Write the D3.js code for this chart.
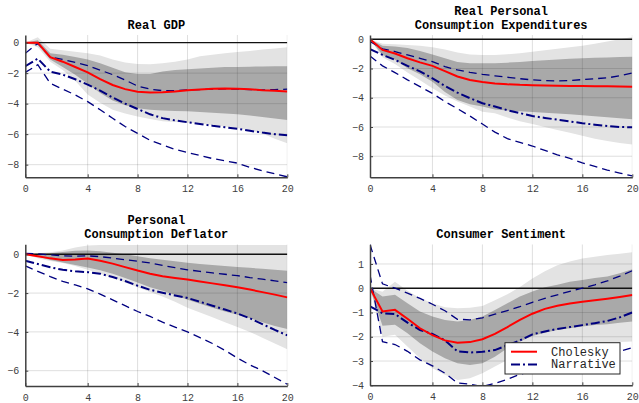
<!DOCTYPE html>
<html>
<head>
<meta charset="utf-8">
<script src="https://cdn.jsdelivr.net/npm/d3@7"></script>
<style>
  body { margin: 0; background: #fff; }
  svg { display: block; }
  text { font-family: "Liberation Mono", "DejaVu Sans Mono", monospace; }
</style>
</head>
<body>
<div id="chart"></div>
<script>
// horizon steps (22 points, the first tick sits one step before "0" spacing)
const steps = d3.range(22);
const xTicks = [0, 5, 9, 13, 17, 21];
const xTickLabels = ["0", "4", "8", "12", "16", "20"];

// Real GDP
const gdpChol = [0, 0, -0.96, -1.25, -1.6, -1.95, -2.4, -2.78, -3.05, -3.22, -3.27, -3.25, -3.2, -3.12, -3.08, -3.03, -3.0, -3.02, -3.06, -3.12, -3.16, -3.2];
const gdpNarr = [-1.55, -1.05, -1.9, -2.1, -2.4, -2.75, -3.15, -3.6, -4.0, -4.35, -4.7, -4.95, -5.1, -5.22, -5.33, -5.45, -5.55, -5.65, -5.78, -5.9, -6.0, -6.08];
const gdpNarrHi = [-0.7, -0.05, -0.95, -1.1, -1.3, -1.5, -1.8, -2.1, -2.45, -2.85, -3.05, -3.15, -3.15, -3.1, -3.08, -3.05, -3.03, -3.05, -3.08, -3.1, -3.08, -3.05];
const gdpNarrLo = [-1.95, -1.45, -2.67, -3.05, -3.43, -3.87, -4.4, -4.96, -5.5, -5.95, -6.4, -6.7, -7.0, -7.2, -7.4, -7.6, -7.75, -7.9, -8.18, -8.4, -8.6, -8.8];
const gdpLightHi = [0, 0.35, -0.4, -0.5, -0.6, -0.7, -0.85, -1.1, -1.3, -1.4, -1.42, -1.35, -1.25, -1.1, -0.9, -0.8, -0.7, -0.62, -0.55, -0.45, -0.38, -0.3];
const gdpLightLo = [0, -0.3, -1.25, -1.8, -2.5, -3.4, -3.95, -4.4, -4.65, -4.85, -5.0, -5.15, -5.2, -5.25, -5.3, -5.4, -5.5, -5.6, -5.75, -5.95, -6.3, -6.6];
const gdpDarkHi = [0, 0.15, -0.7, -0.8, -0.95, -1.1, -1.35, -1.65, -1.95, -2.05, -2.05, -1.9, -1.8, -1.75, -1.7, -1.65, -1.6, -1.6, -1.58, -1.56, -1.55, -1.55];
const gdpDarkLo = [0, -0.15, -1.1, -1.6, -2.1, -2.7, -3.3, -3.8, -4.1, -4.3, -4.4, -4.45, -4.48, -4.5, -4.55, -4.6, -4.65, -4.7, -4.78, -4.88, -4.98, -5.07];

// Real Personal Consumption Expenditures
const pceChol = [0, -0.73, -0.98, -1.3, -1.58, -1.82, -2.18, -2.55, -2.78, -2.92, -3.02, -3.08, -3.12, -3.14, -3.16, -3.18, -3.19, -3.2, -3.21, -3.22, -3.23, -3.24];
const pceNarr = [-0.68, -1.07, -1.41, -1.82, -2.2, -2.67, -3.19, -3.65, -4.03, -4.38, -4.6, -4.85, -5.05, -5.25, -5.38, -5.5, -5.62, -5.74, -5.84, -5.93, -6.0, -6.02];
const pceNarrHi = [-0.15, -0.66, -0.84, -1.07, -1.3, -1.53, -1.87, -2.1, -2.26, -2.4, -2.5, -2.6, -2.7, -2.78, -2.82, -2.85, -2.82, -2.76, -2.7, -2.64, -2.5, -2.3];
const pceNarrLo = [-1.14, -1.82, -2.28, -2.78, -3.24, -3.7, -4.26, -4.75, -5.25, -5.8, -6.35, -6.8, -7.05, -7.3, -7.6, -7.9, -8.15, -8.45, -8.7, -8.95, -9.15, -9.35];
const pceLightHi = [0, -0.3, -0.35, -0.4, -0.45, -0.55, -0.7, -0.9, -1.05, -1.07, -1.07, -1.03, -0.95, -0.85, -0.75, -0.65, -0.55, -0.45, -0.3, -0.15, 0.0, 0.15];
const pceLightLo = [0, -1.23, -1.7, -2.28, -2.8, -3.35, -3.85, -4.26, -4.6, -4.95, -5.06, -5.35, -5.6, -5.8, -6.0, -6.2, -6.4, -6.6, -6.8, -6.95, -7.1, -7.2];
const pceDarkHi = [0, -0.45, -0.5, -0.6, -0.8, -1.05, -1.3, -1.55, -1.64, -1.65, -1.64, -1.6, -1.55, -1.48, -1.43, -1.38, -1.33, -1.3, -1.27, -1.24, -1.21, -1.19];
const pceDarkLo = [0, -1.07, -1.4, -1.98, -2.4, -2.9, -3.6, -4.15, -4.45, -4.6, -4.8, -4.88, -4.93, -4.97, -5.02, -5.07, -5.13, -5.2, -5.27, -5.34, -5.4, -5.47];

// Personal Consumption Deflator
const pcdChol = [0, -0.1, -0.21, -0.29, -0.27, -0.22, -0.33, -0.48, -0.66, -0.84, -1.0, -1.13, -1.22, -1.3, -1.4, -1.5, -1.6, -1.7, -1.82, -1.95, -2.08, -2.22];
const pcdNarr = [-0.33, -0.5, -0.67, -0.8, -0.88, -0.92, -1.0, -1.17, -1.38, -1.62, -1.83, -1.98, -2.12, -2.25, -2.45, -2.65, -2.85, -3.05, -3.3, -3.6, -3.9, -4.18];
const pcdNarrHi = [0.05, 0.02, -0.03, -0.08, -0.1, -0.08, -0.12, -0.2, -0.28, -0.36, -0.45, -0.57, -0.69, -0.8, -0.88, -0.96, -1.03, -1.1, -1.2, -1.28, -1.37, -1.46];
const pcdNarrLo = [-0.6, -0.88, -1.15, -1.4, -1.58, -1.78, -2.05, -2.35, -2.65, -2.95, -3.2, -3.5, -3.75, -4.0, -4.3, -4.6, -4.95, -5.35, -5.7, -6.0, -6.35, -6.7];
const pcdLightHi = [0, 0.05, 0.1, 0.2, 0.35, 0.45, 0.48, 0.48, 0.48, 0.48, 0.48, 0.48, 0.48, 0.48, 0.48, 0.48, 0.48, 0.48, 0.48, 0.48, 0.48, 0.48];
const pcdLightLo = [0, -0.2, -0.35, -0.45, -0.6, -0.8, -1.0, -1.2, -1.45, -1.7, -1.95, -2.18, -2.45, -2.75, -3.0, -3.25, -3.5, -3.75, -4.0, -4.3, -4.6, -4.9];
const pcdDarkHi = [0, 0.03, 0.06, 0.12, 0.18, 0.2, 0.16, 0.08, 0.0, -0.1, -0.2, -0.28, -0.36, -0.44, -0.5, -0.55, -0.6, -0.65, -0.7, -0.75, -0.8, -0.85];
const pcdDarkLo = [0, -0.12, -0.3, -0.42, -0.55, -0.68, -0.82, -1.0, -1.22, -1.45, -1.7, -1.88, -2.1, -2.35, -2.55, -2.75, -2.95, -3.12, -3.3, -3.5, -3.7, -3.85];

// Consumer Sentiment
const csChol = [0, -0.96, -0.89, -1.26, -1.65, -1.93, -2.15, -2.25, -2.22, -2.1, -1.88, -1.6, -1.3, -1.05, -0.85, -0.72, -0.63, -0.56, -0.5, -0.43, -0.36, -0.28];
const csNarr = [-0.75, -1.03, -1.06, -1.42, -1.72, -1.88, -2.15, -2.6, -2.65, -2.62, -2.55, -2.35, -2.15, -1.9, -1.78, -1.68, -1.6, -1.52, -1.44, -1.35, -1.2, -1.0];
const csNarrHi = [1.8, 0.18, 0.0, -0.2, -0.42, -0.66, -0.93, -1.28, -1.3, -1.22, -1.07, -0.92, -0.76, -0.58, -0.42, -0.27, -0.13, 0.0, 0.14, 0.3, 0.5, 0.72];
const csNarrLo = [0.55, -2.2, -2.32, -2.6, -2.95, -3.2, -3.5, -3.9, -3.95, -4.05, -3.92, -3.75, -3.55, -3.4, -3.25, -3.1, -2.95, -2.85, -2.75, -2.68, -2.6, -2.45];
const csLightHi = [0, -0.15, 0.27, -0.1, -0.4, -0.62, -0.78, -0.82, -0.8, -0.73, -0.5, -0.25, 0.05, 0.4, 0.7, 0.95, 1.1, 1.22, 1.3, 1.37, 1.42, 1.48];
const csLightLo = [0, -2.0, -1.92, -2.4, -2.89, -3.3, -3.57, -3.78, -3.71, -3.5, -3.23, -2.96, -2.68, -2.47, -2.4, -2.34, -2.3, -2.27, -2.25, -2.24, -2.22, -2.2];
const csDarkHi = [0, -0.34, -0.27, -0.62, -0.96, -1.17, -1.31, -1.37, -1.31, -1.17, -0.9, -0.62, -0.34, -0.14, 0.04, 0.14, 0.27, 0.34, 0.42, 0.48, 0.62, 0.78];
const csDarkLo = [0, -1.55, -1.51, -1.86, -2.27, -2.61, -2.89, -3.09, -3.16, -3.09, -2.82, -2.47, -2.2, -1.97, -1.83, -1.72, -1.65, -1.58, -1.52, -1.48, -1.42, -1.37];

const legendLabels = ["Cholesky", "Narrative"];

const panels = [
	{ title: ["Real GDP"], x0: 25.3, x1: 287.3, y0: 35, y1: 177.3, yDom: [-8.83, 0.5], yTicks: [-8, -6, -4, -2, 0],
		chol: gdpChol, narr: gdpNarr, hi: gdpNarrHi, lo: gdpNarrLo, lHi: gdpLightHi, lLo: gdpLightLo, dHi: gdpDarkHi, dLo: gdpDarkLo },
	{ title: ["Real Personal", "Consumption Expenditures"], x0: 370, x1: 632.3, y0: 35, y1: 177.3, yDom: [-9.44, 0.29], yTicks: [-8, -6, -4, -2, 0],
		chol: pceChol, narr: pceNarr, hi: pceNarrHi, lo: pceNarrLo, lHi: pceLightHi, lLo: pceLightLo, dHi: pceDarkHi, dLo: pceDarkLo },
	{ title: ["Personal", "Consumption Deflator"], x0: 25.3, x1: 287.3, y0: 244.3, y1: 386, yDom: [-6.79, 0.515], yTicks: [-6, -4, -2, 0],
		chol: pcdChol, narr: pcdNarr, hi: pcdNarrHi, lo: pcdNarrLo, lHi: pcdLightHi, lLo: pcdLightLo, dHi: pcdDarkHi, dLo: pcdDarkLo },
	{ title: ["Consumer Sentiment"], x0: 370, x1: 632.3, y0: 244.3, y1: 385.3, yDom: [-4.0, 1.81], yTicks: [-4, -3, -2, -1, 0, 1],
		chol: csChol, narr: csNarr, hi: csNarrHi, lo: csNarrLo, lHi: csLightHi, lLo: csLightLo, dHi: csDarkHi, dLo: csDarkLo, legend: true }
];

const svg = d3.select("#chart").append("svg")
	.attr("width", 639)
	.attr("height", 403);

const red = "#ff0000";
const navy = "#000080";
const axisColor = "#262626";

panels.forEach((p, k) => {
	const g = svg.append("g");
	const x = d3.scaleLinear().domain([0, 21]).range([p.x0, p.x1]);
	const y = d3.scaleLinear().domain(p.yDom).range([p.y1, p.y0]);

	const clipId = "clip" + k;
	g.append("clipPath").attr("id", clipId)
		.append("rect")
		.attr("x", p.x0).attr("y", p.y0)
		.attr("width", p.x1 - p.x0).attr("height", p.y1 - p.y0);

	const plot = g.append("g").attr("clip-path", `url(#${clipId})`);

	// bands
	const band = (hi, lo) => d3.area()
		.x(i => x(i))
		.y0(i => y(lo[i]))
		.y1(i => y(hi[i]));
	plot.append("path").datum(steps).attr("d", band(p.lHi, p.lLo)).attr("fill", "#e3e3e3");
	plot.append("path").datum(steps).attr("d", band(p.dHi, p.dLo)).attr("fill", "#a9a9a9");

	// grid
	plot.selectAll(".vgrid").data(xTicks.slice(1)).enter().append("line")
		.attr("x1", d => x(d)).attr("x2", d => x(d))
		.attr("y1", p.y0).attr("y2", p.y1)
		.attr("stroke", axisColor).attr("stroke-opacity", 0.15).attr("stroke-width", 1);
	plot.selectAll(".hgrid").data(p.yTicks.filter(d => d !== 0)).enter().append("line")
		.attr("x1", p.x0).attr("x2", p.x1)
		.attr("y1", d => y(d)).attr("y2", d => y(d))
		.attr("stroke", axisColor).attr("stroke-opacity", 0.15).attr("stroke-width", 1);

	// zero line
	plot.append("line")
		.attr("x1", p.x0).attr("x2", p.x1)
		.attr("y1", y(0)).attr("y2", y(0))
		.attr("stroke", "#111").attr("stroke-width", 1.4);

	const line = arr => d3.line().x(i => x(i)).y(i => y(arr[i]));

	plot.append("path").datum(steps).attr("d", line(p.hi))
		.attr("fill", "none").attr("stroke", navy).attr("stroke-width", 1.3).attr("stroke-dasharray", "8,5");
	plot.append("path").datum(steps).attr("d", line(p.lo))
		.attr("fill", "none").attr("stroke", navy).attr("stroke-width", 1.3).attr("stroke-dasharray", "8,5");
	plot.append("path").datum(steps).attr("d", line(p.narr))
		.attr("fill", "none").attr("stroke", navy).attr("stroke-width", 2).attr("stroke-dasharray", "9,3,2,3");
	plot.append("path").datum(steps).attr("d", line(p.chol))
		.attr("fill", "none").attr("stroke", red).attr("stroke-width", 2);

	// axes
	const yAxis = d3.axisLeft(y).tickValues(p.yTicks).tickFormat(d3.format("d"))
		.tickSize(-3).tickSizeOuter(0).tickPadding(6);
	const yAxisG = g.append("g").attr("transform", `translate(${p.x0},0)`).call(yAxis);
	const xAxis = d3.axisBottom(x).tickValues(xTicks).tickFormat((d, i) => xTickLabels[i])
		.tickSize(-3).tickSizeOuter(0).tickPadding(8);
	const xAxisG = g.append("g").attr("transform", `translate(0,${p.y1})`).call(xAxis);

	[yAxisG, xAxisG].forEach(a => {
		a.select(".domain").attr("stroke", "#404040").attr("stroke-width", 1.5);
		a.selectAll(".tick line").attr("stroke", "#404040");
		a.selectAll(".tick text").attr("fill", "#404040")
			.style("font-family", '"Liberation Mono", monospace').style("font-size", "10px");
	});

	// title
	const cx = (p.x0 + p.x1) / 2;
	const titleBase = p.title.length === 1 ? p.y0 - 6 : p.y0 - 20;
	p.title.forEach((t, j) => {
		g.append("text")
			.attr("x", cx).attr("y", titleBase + j * 14)
			.attr("text-anchor", "middle")
			.style("font-size", "12px").style("font-weight", "bold")
			.attr("fill", "#000")
			.text(t);
	});

	if (p.legend) {
		const lg = g.append("g").attr("transform", "translate(505,342.7)");
		lg.append("rect").attr("width", 115).attr("height", 31.3)
			.attr("fill", "#fff").attr("stroke", axisColor).attr("stroke-width", 1);
		const styles = [
			{ color: red, width: 2, dash: null },
			{ color: navy, width: 2, dash: "9,3,2,3" }
		];
		legendLabels.forEach((label, j) => {
			const yy = 9 + j * 12.8;
			lg.append("line").attr("x1", 6).attr("x2", 32).attr("y1", yy).attr("y2", yy)
				.attr("stroke", styles[j].color).attr("stroke-width", styles[j].width)
				.attr("stroke-dasharray", styles[j].dash);
			lg.append("text").attr("x", 46).attr("y", yy + 4)
				.style("font-size", "12px").attr("fill", "#262626")
				.text(label);
		});
	}
});
</script>
</body>
</html>
